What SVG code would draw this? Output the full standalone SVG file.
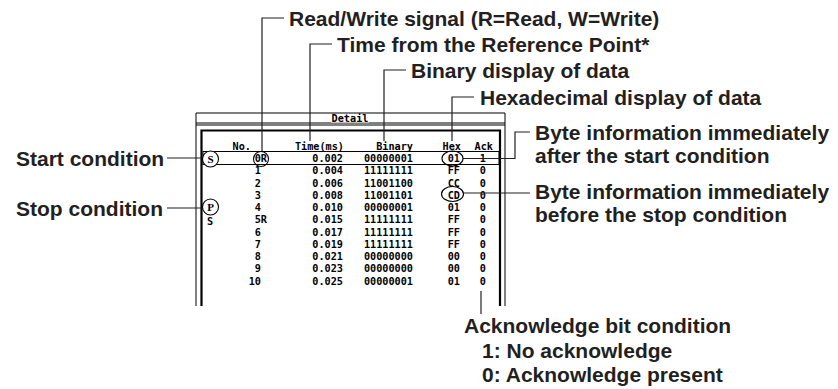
<svg xmlns="http://www.w3.org/2000/svg" width="838" height="389" viewBox="0 0 838 389">
<style>
.lbl{font-family:"Liberation Sans",Arial,sans-serif;font-weight:bold;font-size:21px;fill:#231f20}
.mono{font-family:"DejaVu Sans Mono","Liberation Mono",monospace;font-weight:bold;font-size:10.2px;fill:#000}
.ln{stroke:#231f20;stroke-width:1.2;fill:none}
.thin{stroke:#000;stroke-width:1;fill:none}
.thick{stroke:#000;stroke-width:2.2;fill:none}
.circ{stroke:#000;stroke-width:1.1;fill:none}
.circw{stroke:#000;stroke-width:1.1;fill:#fff}
.ser{font-family:"Liberation Serif",serif;font-weight:bold;font-size:11px;fill:#000}
</style>
<rect width="838" height="389" fill="#fff"/>
<g id="window">
<path class="thin" d="M196,306 V113 H505 V306"/>
<line class="thin" x1="196" y1="123" x2="505" y2="123"/>
<line class="thin" x1="196" y1="125" x2="505" y2="125"/>
<path class="thick" d="M201.5,306 V130.5 H500 V306"/>
<rect x="331" y="114" width="38" height="8.5" fill="#fff"/>
<text class="mono" x="350" y="121.5" text-anchor="middle">Detail</text>
<rect class="thin" x="203" y="151.5" width="296" height="13"/>
</g>
<g id="table">
<text class="mono" x="251" y="150" text-anchor="end">No.</text>
<text class="mono" x="344" y="150" text-anchor="end">Time(ms)</text>
<text class="mono" x="413" y="150" text-anchor="end">Binary</text>
<text class="mono" x="461" y="150" text-anchor="end">Hex</text>
<text class="mono" x="493" y="150" text-anchor="end">Ack</text>
<g text-anchor="end">
<text class="mono" x="267" y="162.2">0R</text><text class="mono" x="343" y="162.2">0.002</text><text class="mono" x="413" y="162.2">00000001</text><text class="mono" x="460" y="162.2">01</text><text class="mono" x="486" y="162.2">1</text>
<text class="mono" x="261" y="174.4">1</text><text class="mono" x="343" y="174.4">0.004</text><text class="mono" x="413" y="174.4">11111111</text><text class="mono" x="460" y="174.4">FF</text><text class="mono" x="486" y="174.4">0</text>
<text class="mono" x="261" y="186.7">2</text><text class="mono" x="343" y="186.7">0.006</text><text class="mono" x="413" y="186.7">11001100</text><text class="mono" x="460" y="186.7">CC</text><text class="mono" x="486" y="186.7">0</text>
<text class="mono" x="261" y="198.9">3</text><text class="mono" x="343" y="198.9">0.008</text><text class="mono" x="413" y="198.9">11001101</text><text class="mono" x="460" y="198.9">CD</text><text class="mono" x="486" y="198.9">0</text>
<text class="mono" x="261" y="211.2">4</text><text class="mono" x="343" y="211.2">0.010</text><text class="mono" x="413" y="211.2">00000001</text><text class="mono" x="460" y="211.2">01</text><text class="mono" x="486" y="211.2">0</text>
<text class="mono" x="267" y="223.4">5R</text><text class="mono" x="343" y="223.4">0.015</text><text class="mono" x="413" y="223.4">11111111</text><text class="mono" x="460" y="223.4">FF</text><text class="mono" x="486" y="223.4">0</text>
<text class="mono" x="261" y="235.7">6</text><text class="mono" x="343" y="235.7">0.017</text><text class="mono" x="413" y="235.7">11111111</text><text class="mono" x="460" y="235.7">FF</text><text class="mono" x="486" y="235.7">0</text>
<text class="mono" x="261" y="247.9">7</text><text class="mono" x="343" y="247.9">0.019</text><text class="mono" x="413" y="247.9">11111111</text><text class="mono" x="460" y="247.9">FF</text><text class="mono" x="486" y="247.9">0</text>
<text class="mono" x="261" y="260.2">8</text><text class="mono" x="343" y="260.2">0.021</text><text class="mono" x="413" y="260.2">00000000</text><text class="mono" x="460" y="260.2">00</text><text class="mono" x="486" y="260.2">0</text>
<text class="mono" x="261" y="272.4">9</text><text class="mono" x="343" y="272.4">0.023</text><text class="mono" x="413" y="272.4">00000000</text><text class="mono" x="460" y="272.4">00</text><text class="mono" x="486" y="272.4">0</text>
<text class="mono" x="261" y="284.7">10</text><text class="mono" x="343" y="284.7">0.025</text><text class="mono" x="413" y="284.7">00000001</text><text class="mono" x="460" y="284.7">01</text><text class="mono" x="486" y="284.7">0</text>
</g>
<text class="mono" x="207" y="225">S</text>
</g>
<g id="connectors">
<path class="ln" d="M284,18 H262 V151.5"/>
<path class="ln" d="M332,44 H310 V141"/>
<path class="ln" d="M406,70 H384 V141"/>
<path class="ln" d="M474,97 H452 V141"/>
<path class="ln" d="M463,158.5 H515 V132 H530"/>
<path class="ln" d="M464,193 H530"/>
<line class="ln" x1="167" y1="158" x2="202" y2="158"/>
<line class="ln" x1="167" y1="208" x2="202" y2="208"/>
<line class="ln" x1="481" y1="291" x2="481" y2="314"/>
</g>
<g id="marks">
<ellipse class="circ" cx="261" cy="159" rx="7.5" ry="7.5"/>
<ellipse class="circ" cx="452.5" cy="158.5" rx="10.5" ry="7.5"/>
<ellipse class="circ" cx="452.5" cy="194" rx="11" ry="7.5"/>
</g>
<g id="start">
<circle class="circw" cx="210.5" cy="159" r="8"/>
<text class="ser" x="210.5" y="163" text-anchor="middle">S</text>
<text class="lbl" x="16" y="165.5">Start condition</text>
</g>
<g id="stop">
<circle class="circw" cx="210.5" cy="207" r="8"/>
<text class="ser" x="210.5" y="211" text-anchor="middle">P</text>
<text class="lbl" x="16" y="216">Stop condition</text>
</g>
<g id="rw"><text class="lbl" x="289" y="25.5">Read/Write signal (R=Read, W=Write)</text></g>
<g id="time"><text class="lbl" x="337" y="51.5">Time from the Reference Point*</text></g>
<g id="binary"><text class="lbl" x="411" y="77.5">Binary display of data</text></g>
<g id="hex"><text class="lbl" x="480" y="104.5">Hexadecimal display of data</text></g>
<g id="after">
<text class="lbl" x="535" y="139.5">Byte information immediately</text>
<text class="lbl" x="535" y="162.5">after the start condition</text>
</g>
<g id="before">
<text class="lbl" x="535" y="198.5">Byte information immediately</text>
<text class="lbl" x="535" y="221.5">before the stop condition</text>
</g>
<g id="ack">
<text class="lbl" x="464" y="332.5">Acknowledge bit condition</text>
<text class="lbl" x="482" y="357.5">1: No acknowledge</text>
<text class="lbl" x="482" y="381.5">0: Acknowledge present</text>
</g>
</svg>
